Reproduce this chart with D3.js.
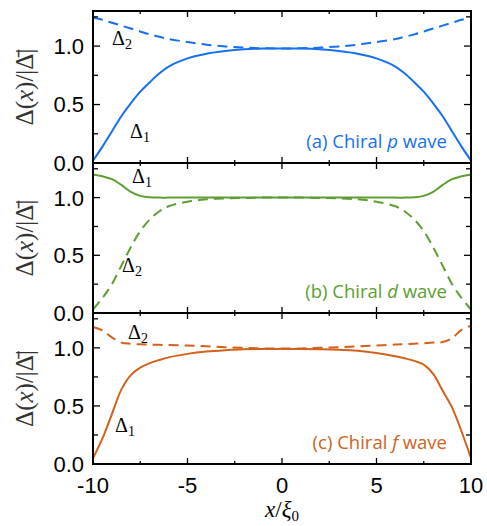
<!DOCTYPE html>
<html><head><meta charset="utf-8">
<script src="https://cdn.jsdelivr.net/npm/d3@7"></script>
<style>body{margin:0;background:#fff}svg{display:block}</style>
</head><body><svg id="c" width="487" height="526"></svg>
<script>
const xGrid = [-10,-9.5,-9,-8.5,-8,-7.5,-7,-6.5,-6,-5,-4,-3,-2,-1,0,1,2,3,4,5,6,6.5,7,7.5,8,8.5,9,9.5,10];
const pDelta1 = [0.02,0.14,0.27,0.40,0.51,0.61,0.69,0.765,0.825,0.895,0.935,0.958,0.972,0.979,0.98,0.979,0.972,0.958,0.935,0.895,0.825,0.765,0.69,0.61,0.51,0.40,0.27,0.14,0.02];
const pDelta2 = [1.245,1.225,1.20,1.175,1.15,1.125,1.10,1.08,1.06,1.035,1.012,0.997,0.987,0.981,0.98,0.981,0.987,0.997,1.012,1.035,1.06,1.08,1.10,1.125,1.15,1.175,1.20,1.225,1.245];
const dDelta1 = [1.20,1.185,1.16,1.11,1.05,1.015,1.003,1.0,1.0,1.0,1.0,1.0,1.0,1.0,1.0,1.0,1.0,1.0,1.0,1.0,1.0,1.0,1.003,1.015,1.05,1.11,1.16,1.185,1.20];
const dDelta2 = [0.03,0.13,0.25,0.41,0.57,0.71,0.81,0.88,0.925,0.965,0.985,0.993,0.997,1.0,1.0,1.0,0.997,0.993,0.985,0.965,0.925,0.88,0.81,0.71,0.57,0.41,0.25,0.13,0.03];
const fDelta1 = [0.05,0.22,0.43,0.64,0.765,0.83,0.868,0.895,0.918,0.948,0.968,0.98,0.988,0.99,0.99,0.99,0.988,0.984,0.975,0.956,0.928,0.91,0.888,0.855,0.775,0.63,0.485,0.28,0.05];
const fDelta2 = [1.18,1.15,1.09,1.045,1.035,1.03,1.028,1.026,1.024,1.02,1.013,1.006,1.0,0.995,0.995,0.995,1.0,1.005,1.012,1.02,1.028,1.032,1.036,1.04,1.045,1.05,1.085,1.155,1.19];
const panelLabels = ["(a) Chiral ", "(b) Chiral ", "(c) Chiral "];
const panelItalic = ["p", "d", "f"];
const panelColors = ["#1670ee", "#5c9e2f", "#d3611b"];
const xTicks = [-10,-5,0,5,10];
const xMinor = [-7.5,-2.5,2.5,7.5];
const yTicks = [0,0.5,1.0];
const yMinor = [0.25,0.75,1.25];

const panels = [
  {d1:pDelta1, d2:pDelta2, a1:[130,138], a2:[112,45]},
  {d1:dDelta1, d2:dDelta2, a1:[132,183], a2:[122,272]},
  {d1:fDelta1, d2:fDelta2, a1:[115,432], a2:[128,339]}
];
const tops = [11,163,313];
const bottoms = [163,313,464];
const L = 93, R = 471;

const svg = d3.select("#c");
const x = d3.scaleLinear().domain([-10,10]).range([L,R]);

panels.forEach((p,i)=>{
  const y = d3.scaleLinear().domain([0,1.3]).range([bottoms[i], tops[i]]);
  const g = svg.append("g");
  const col = panelColors[i];
  const line = d3.line().x((d,j)=>x(xGrid[j])).y(d=>y(d)).curve(d3.curveCatmullRom.alpha(0.5));
  g.append("path").attr("d", line(p.d2)).attr("fill","none").attr("stroke",col)
    .attr("stroke-width",2).attr("stroke-dasharray","10,6");
  g.append("path").attr("d", line(p.d1)).attr("fill","none").attr("stroke",col)
    .attr("stroke-width",2);
  const yt = g.append("g").attr("stroke","#000").attr("stroke-width",1.3);
  yTicks.forEach(v=>{
    yt.append("line").attr("x1",L).attr("x2",L+7).attr("y1",y(v)).attr("y2",y(v));
    yt.append("line").attr("x1",R).attr("x2",R-7).attr("y1",y(v)).attr("y2",y(v));
  });
  yMinor.forEach(v=>{
    yt.append("line").attr("x1",L).attr("x2",L+5).attr("y1",y(v)).attr("y2",y(v));
    yt.append("line").attr("x1",R).attr("x2",R-5).attr("y1",y(v)).attr("y2",y(v));
  });
  xTicks.forEach(v=>{
    yt.append("line").attr("x1",x(v)).attr("x2",x(v)).attr("y1",tops[i]).attr("y2",tops[i]+6);
    yt.append("line").attr("x1",x(v)).attr("x2",x(v)).attr("y1",bottoms[i]).attr("y2",bottoms[i]-6);
  });
  xMinor.forEach(v=>{
    yt.append("line").attr("x1",x(v)).attr("x2",x(v)).attr("y1",tops[i]).attr("y2",tops[i]+3);
    yt.append("line").attr("x1",x(v)).attr("x2",x(v)).attr("y1",bottoms[i]).attr("y2",bottoms[i]-3);
  });
  yTicks.forEach(v=>{
    g.append("text").attr("x",L-9).attr("y",y(v)).attr("dy","0.36em")
      .attr("text-anchor","end").attr("font-family","Liberation Sans, Arial, sans-serif")
      .attr("font-size",22).attr("fill","#000").text(v.toFixed(1));
  });
  g.append("rect").attr("x",L).attr("y",tops[i]).attr("width",R-L).attr("height",bottoms[i]-tops[i])
    .attr("fill","none").attr("stroke","#000").attr("stroke-width",2);
  const ann = (pos, sub)=>{
    const t = g.append("text").attr("x",pos[0]).attr("y",pos[1])
      .attr("font-family","Liberation Serif, DejaVu Serif, serif").attr("font-size",20).attr("fill","#000");
    t.append("tspan").text("Δ");
    t.append("tspan").attr("font-size",14).attr("dy",4).text(sub);
  };
  ann(p.a1,"1"); ann(p.a2,"2");
  const pl = g.append("text").attr("x",447).attr("y",bottoms[i]-15).attr("text-anchor","end")
    .attr("font-family","Open Sans, Noto Sans, sans-serif").attr("font-size",18.5).attr("fill",col);
  pl.append("tspan").text(panelLabels[i]);
  pl.append("tspan").attr("font-style","italic").text(panelItalic[i]);
  pl.append("tspan").text(" wave");
  const cy = (tops[i]+bottoms[i])/2;
  const yl = g.append("text").attr("transform",`translate(33,${cy}) rotate(-90)`)
    .attr("text-anchor","middle").attr("font-family","Liberation Serif, DejaVu Serif, serif")
    .attr("font-size",25).attr("fill","#333");
  yl.append("tspan").text("Δ(");
  yl.append("tspan").attr("font-style","italic").text("x");
  yl.append("tspan").text(")/|Δ\u0304|");
});

xTicks.forEach(v=>{
  svg.append("text").attr("x",x(v)).attr("y",bottoms[2]+29).attr("text-anchor","middle")
    .attr("font-family","Liberation Sans, Arial, sans-serif").attr("font-size",22).attr("fill","#000")
    .text(v);
});
const xl = svg.append("text").attr("x",x(0)).attr("y",517).attr("text-anchor","middle")
  .attr("font-family","Liberation Serif, DejaVu Serif, serif").attr("font-size",23).attr("fill","#000");
xl.append("tspan").attr("font-style","italic").text("x");
xl.append("tspan").text("/");
xl.append("tspan").attr("font-style","italic").text("ξ");
xl.append("tspan").attr("font-size",15).attr("dy",4).text("0");
</script></body></html>
